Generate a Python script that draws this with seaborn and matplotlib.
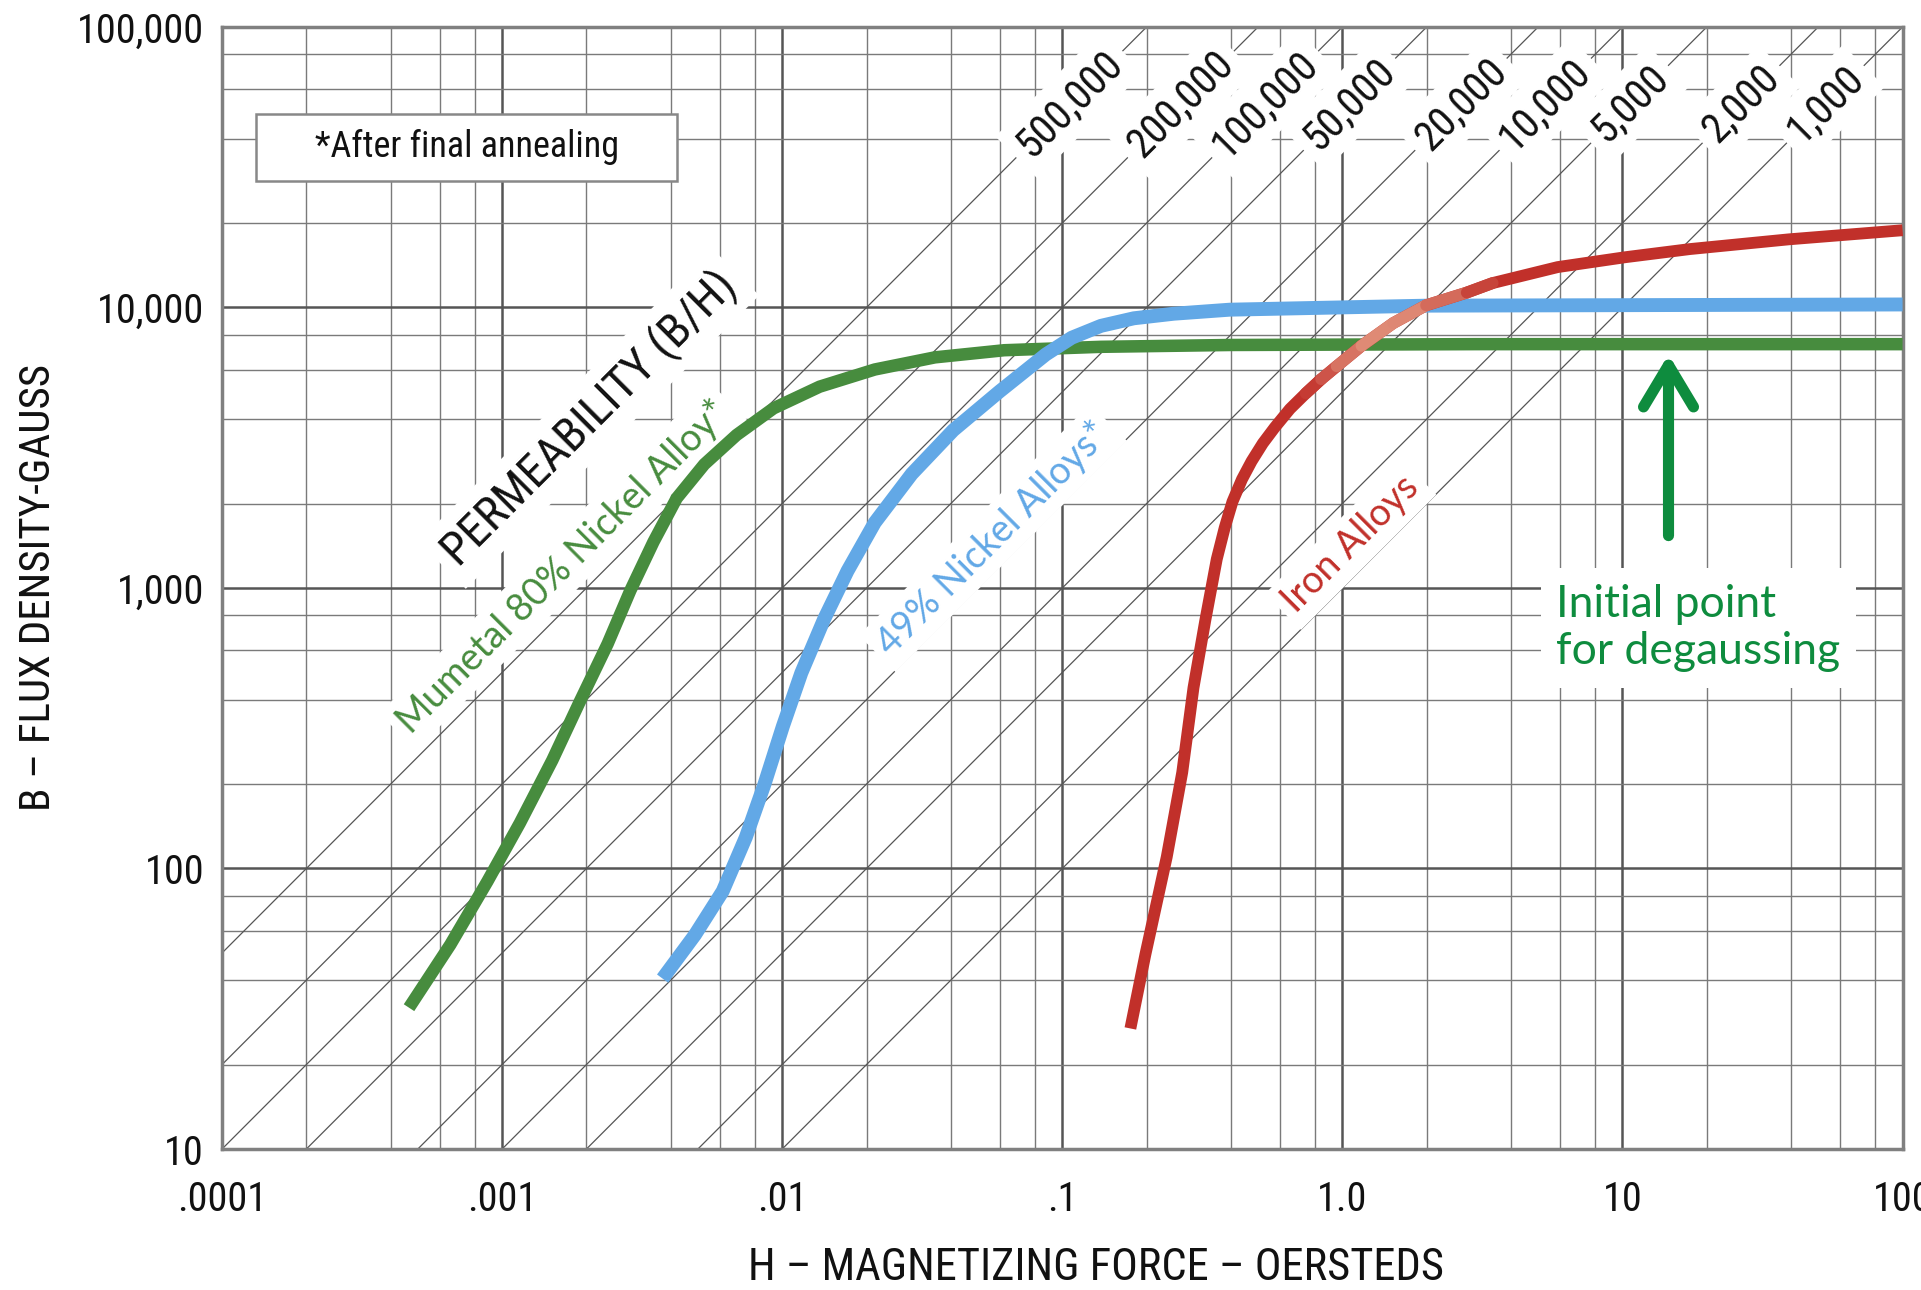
import seaborn as sns
from matplotlib import pyplot as plt
from matplotlib.patches import Rectangle
from matplotlib.collections import LineCollection
from matplotlib.colors import to_rgb
from matplotlib.ticker import LogLocator, NullFormatter

# B-H curves (H in oersteds, B in gauss)
mumetal_h = [4.65e-4, 6.53e-4, 8.85e-4, 1.156e-3, 1.51e-3, 1.89e-3, 2.38e-3, 2.87e-3, 3.47e-3, 4.20e-3,
             5.27e-3, 6.87e-3, 9.31e-3, 0.0136, 0.0214, 0.0351, 0.0620, 0.1374, 0.4, 3.0, 100]
mumetal_b = [31.9, 53.5, 89.8, 145, 243, 392, 632, 980, 1460, 2090,
             2760, 3510, 4370, 5220, 6010, 6640, 7040, 7240, 7350, 7400, 7400]

nickel49_h = [3.74e-3, 4.88e-3, 6.13e-3, 7.41e-3, 8.63e-3, 0.01005, 0.0117, 0.0141, 0.0171, 0.0214,
              0.0290, 0.0408, 0.0597, 0.0873, 0.108, 0.1374, 0.18, 0.25, 0.396, 2.0, 100]
nickel49_b = [40.5, 58, 83, 129, 199, 321, 498, 773, 1150, 1710,
              2550, 3650, 5020, 6800, 7800, 8600, 9150, 9500, 9820, 10150, 10250]

iron_h = [0.175, 0.198, 0.236, 0.268, 0.294, 0.324, 0.356, 0.38, 0.405, 0.438, 0.474, 0.52, 0.574,
          0.65, 0.740, 0.84, 0.954, 1.17, 1.52, 1.99, 2.78, 3.44, 5.87, 10.2, 17.4, 39.4, 100]
iron_b = [26.9, 49.4, 110, 220, 441, 767, 1267, 1640, 2030, 2440, 2830, 3280, 3740,
          4350, 4940, 5550, 6170, 7300, 8800, 10180, 11300, 12220, 13930, 15100, 16150, 17500, 18850]
# how washed-out the iron curve looks at each point (0 = full red)
iron_fade = [0, 0, 0, 0, 0, 0, 0, 0, 0, 0, 0, 0, 0,
             0, 0, 0.2, 0.45, 0.75, 0.85, 0.7, 0.35, 0, 0, 0, 0, 0, 0]

# constant permeability guide lines (B/H)
perm_values = [500000, 200000, 100000, 50000, 20000, 10000, 5000, 2000, 1000]
perm_labels = ['500,000', '200,000', '100,000', '50,000', '20,000', '10,000', '5,000', '2,000', '1,000']
perm_label_b = 53000

x_ticks = [1e-4, 1e-3, 1e-2, 0.1, 1, 10, 100]
x_tick_labels = ['.0001', '.001', '.01', '.1', '1.0', '10', '100']
y_ticks = [10, 100, 1000, 10000, 100000]
y_tick_labels = ['10', '100', '1,000', '10,000', '100,000']

# degaussing start point marker
degauss_h = 14.6
degauss_b_tip = 6800
degauss_b_tail = 1537

GREEN = '#478c3e'
BLUE = '#62a8e6'
RED = '#c1302a'
RED_LIGHT = '#e6a088'
NOTE_GREEN = '#0e8c3e'
LABEL_FONT = ['Lato', 'DejaVu Sans']

sns.set_style('white')
plt.rcParams['font.family'] = ['Roboto Condensed', 'Liberation Sans Narrow', 'Roboto', 'DejaVu Sans']

fig = plt.figure(figsize=(19.21, 12.90), dpi=100)
ax = fig.add_axes([0.1156, 0.1093, 0.8748, 0.8698])
ax.set_xscale('log')
ax.set_yscale('log')
ax.set_xlim(1e-4, 100)
ax.set_ylim(10, 100000)

# grid: decades darker, 2-4-6-8 subdivisions lighter
ax.xaxis.set_minor_locator(LogLocator(base=10, subs=(2, 4, 6, 8), numticks=50))
ax.yaxis.set_minor_locator(LogLocator(base=10, subs=(2, 4, 6, 8), numticks=50))
ax.xaxis.set_minor_formatter(NullFormatter())
ax.yaxis.set_minor_formatter(NullFormatter())
ax.grid(which='major', color='#555555', lw=1.8, zorder=0)
ax.grid(which='minor', color='#7a7a7a', lw=1.0, zorder=0)
ax.set_axisbelow(True)

for mu in perm_values:
    ax.axline((1.0, mu), (10.0, mu * 10), color='#555555', lw=0.9, zorder=1)

for mu, lab in zip(perm_values, perm_labels):
    ax.text(perm_label_b / mu, perm_label_b, lab, rotation=45, rotation_mode='anchor',
            ha='center', va='center', fontsize=30, color='#111111', zorder=3,
            bbox=dict(boxstyle='square,pad=0.22', fc='white', ec='none'))

sns.lineplot(x=mumetal_h, y=mumetal_b, ax=ax, color=GREEN, lw=9, sort=False,
             estimator=None, solid_capstyle='butt', solid_joinstyle='round', zorder=4)
sns.lineplot(x=nickel49_h, y=nickel49_b, ax=ax, color=BLUE, lw=10, sort=False,
             estimator=None, solid_capstyle='butt', solid_joinstyle='round', zorder=5)
sns.lineplot(x=iron_h, y=iron_b, ax=ax, color=RED, lw=8.5, sort=False,
             estimator=None, solid_capstyle='butt', solid_joinstyle='round', zorder=6)

# washed-out stretch of the iron curve where it crosses the other two
red_rgb = to_rgb(RED)
light_rgb = to_rgb(RED_LIGHT)
segs, seg_colors = [], []
for i in range(len(iron_h) - 1):
    f = (iron_fade[i] + iron_fade[i + 1]) / 2
    if f > 0:
        segs.append([(iron_h[i], iron_b[i]), (iron_h[i + 1], iron_b[i + 1])])
        seg_colors.append(tuple(r + (l - r) * f for r, l in zip(red_rgb, light_rgb)))
ax.add_collection(LineCollection(segs, colors=seg_colors, linewidths=8.5,
                                 capstyle='round', zorder=7))

ax.text(2.04e-3, 4020, 'PERMEABILITY (B/H)', rotation=45, rotation_mode='anchor',
        ha='center', va='center', fontsize=34, color='#111111', zorder=3,
        bbox=dict(boxstyle='square,pad=0.2', fc='white', ec='none'))
ax.text(1.65e-3, 1194, 'Mumetal 80% Nickel Alloy*', rotation=45, rotation_mode='anchor',
        ha='center', va='center', fontsize=27, color=GREEN, family=LABEL_FONT, zorder=3,
        bbox=dict(boxstyle='square,pad=0.2', fc='white', ec='none'))
ax.text(0.0565, 1506, '49% Nickel Alloys*', rotation=45, rotation_mode='anchor',
        ha='center', va='center', fontsize=27, color=BLUE, family=LABEL_FONT, zorder=3,
        bbox=dict(boxstyle='square,pad=0.2', fc='white', ec='none'))
ax.text(1.07, 1432, 'Iron Alloys', rotation=45, rotation_mode='anchor',
        ha='center', va='center', fontsize=27, color=RED, family=LABEL_FONT, zorder=3,
        bbox=dict(boxstyle='square,pad=0.2', fc='white', ec='none'))

# annealing note box
ax.add_patch(Rectangle((0.0202, 0.8627), 0.2505, 0.0597, transform=ax.transAxes,
                       fc='white', ec='#888888', lw=1.8, zorder=3))
ax.text(0.1455, 0.8926, '*After final annealing', transform=ax.transAxes,
        ha='center', va='center', fontsize=26, color='#111111', zorder=4)

# degaussing arrow and note
ax.annotate('', xy=(degauss_h, degauss_b_tip), xytext=(degauss_h, degauss_b_tail),
            arrowprops=dict(arrowstyle='->,head_length=1.5,head_width=0.9', color=NOTE_GREEN,
                            lw=8, mutation_scale=20, shrinkA=0, shrinkB=0,
                            capstyle='round', joinstyle='round'), zorder=8)
ax.text(5.8, 720, 'Initial point\nfor degaussing', ha='left', va='center',
        fontsize=32, color=NOTE_GREEN, family=LABEL_FONT, linespacing=1.2, zorder=8,
        bbox=dict(boxstyle='square,pad=0.35', fc='white', ec='none'))

ax.set_xticks(x_ticks)
ax.set_xticklabels(x_tick_labels)
ax.set_yticks(y_ticks)
ax.set_yticklabels(y_tick_labels)
ax.tick_params(axis='both', which='both', length=0, labelsize=29, colors='#111111')
ax.tick_params(axis='x', pad=22)
ax.tick_params(axis='y', pad=13)

ax.set_xlabel('H – MAGNETIZING FORCE – OERSTEDS', fontsize=32, color='#111111', va='center')
ax.xaxis.set_label_coords(0.520, -0.106)
ax.set_ylabel('B – FLUX DENSITY-GAUSS', fontsize=31, color='#111111', va='center')
ax.yaxis.set_label_coords(-0.109, 0.5)

for side in ['left', 'right', 'top', 'bottom']:
    ax.spines[side].set_visible(True)
    ax.spines[side].set_color('#808080')
    ax.spines[side].set_linewidth(2.5)

fig.savefig('out.png', dpi=100)
